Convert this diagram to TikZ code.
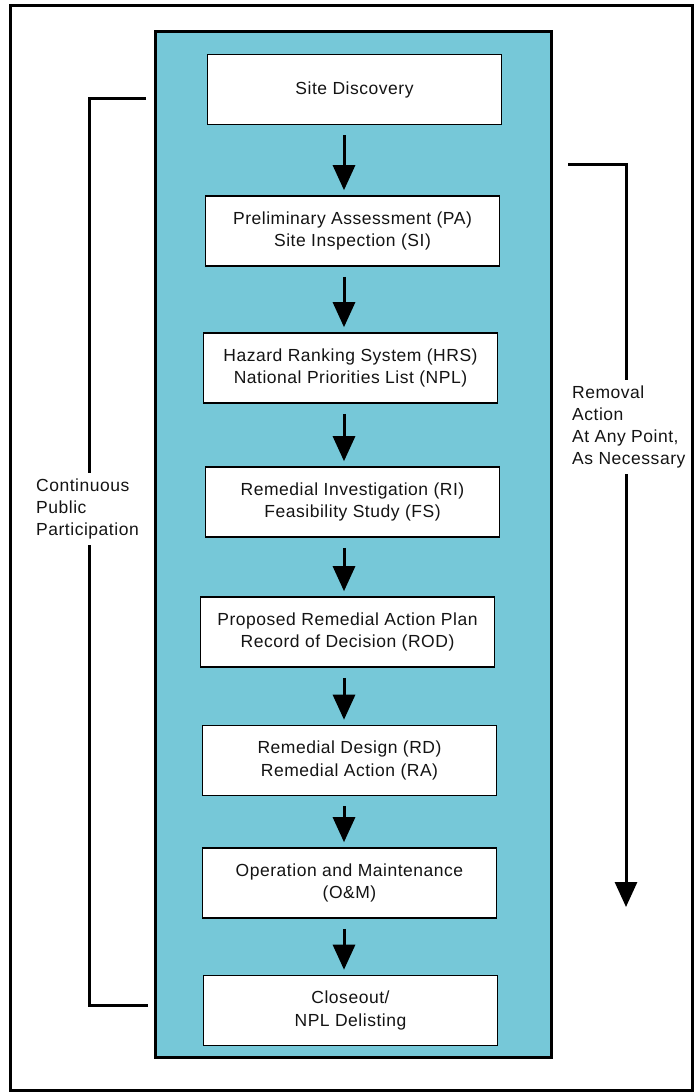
\documentclass[tikz,border=0pt]{standalone}
\usepackage{fontspec}
\setmainfont[LetterSpace=3]{Liberation Sans}
\usetikzlibrary{arrows.meta}
\definecolor{panelblue}{RGB}{118,200,216}
\definecolor{inkgray}{RGB}{20,20,20}
\tikzset{
  stagebox/.style={draw=black, line width=1.6pt, fill=white, minimum width=294pt, minimum height=70pt,
    align=center, inner sep=0pt, text=inkgray, font=\fontsize{17.5}{22.5}\selectfont},
  flowarrow/.style={line width=3pt, -{Triangle[width=22pt,length=25pt]}, shorten <=10pt, shorten >=5pt},
  bracketline/.style={line width=3pt},
  sidetext/.style={align=left, inner xsep=0pt, inner ysep=6pt, text=inkgray, font=\fontsize{17.5}{22}\selectfont}
}
\begin{document}
\begin{tikzpicture}[x=1pt,y=-1pt]
\useasboundingbox (0,0) rectangle (696,1092);
% outer frame and panel
\draw[line width=3pt] (10,5) rectangle (692,1090);
\draw[line width=3pt, fill=panelblue] (155.5,31) rectangle (551,1057);
% stages
\node[stagebox] (b1) at (354.5,89.5) {Site Discovery};
\node[stagebox] (b2) at (352.5,231) {Preliminary Assessment (PA)\\Site Inspection (SI)};
\node[stagebox] (b3) at (350.5,368) {Hazard Ranking System (HRS)\\National Priorities List (NPL)};
\node[stagebox] (b4) at (352.5,502) {Remedial Investigation (RI)\\Feasibility Study (FS)};
\node[stagebox] (b5) at (347.5,632) {Proposed Remedial Action Plan\\Record of Decision (ROD)};
\node[stagebox] (b6) at (349.5,760.5) {Remedial Design (RD)\\Remedial Action (RA)};
\node[stagebox] (b7) at (349.5,883) {Operation and Maintenance\\(O\&M)};
\node[stagebox] (b8) at (350.5,1010.5) {Closeout/\\NPL Delisting};
% arrows
\coordinate (ax) at (344,0);
\draw[flowarrow] (b1.south -| ax) -- (b2.north -| ax);
\draw[flowarrow] (b2.south -| ax) -- (b3.north -| ax);
\draw[flowarrow] (b3.south -| ax) -- (b4.north -| ax);
\draw[flowarrow] (b4.south -| ax) -- (b5.north -| ax);
\draw[flowarrow] (b5.south -| ax) -- (b6.north -| ax);
\draw[flowarrow] (b6.south -| ax) -- (b7.north -| ax);
\draw[flowarrow] (b7.south -| ax) -- (b8.north -| ax);
% left bracket
\node[sidetext, anchor=west] (cpp) at (36,509) {Continuous\\Public\\Participation};
\coordinate (lt) at (146,98);
\coordinate (lc) at (89,98);
\coordinate (lb) at (89,1005);
\coordinate (lbe) at (148,1005);
\draw[bracketline] (lt) -- (lc) -- (cpp.north -| lc);
\draw[bracketline] (cpp.south -| lc) -- (lb) -- (lbe);
% right bracket
\node[sidetext, anchor=west] (ra) at (572,427) {Removal\\Action\\At Any Point,\\As Necessary};
\coordinate (rt) at (568,164);
\coordinate (rc) at (626,164);
\coordinate (rend) at (626,907);
\draw[bracketline] (rt) -- (rc) -- (ra.north -| rc);
\draw[line width=3pt, -{Triangle[width=22pt,length=25pt]}] (ra.south -| rc) -- (rend);
\end{tikzpicture}
\end{document}
